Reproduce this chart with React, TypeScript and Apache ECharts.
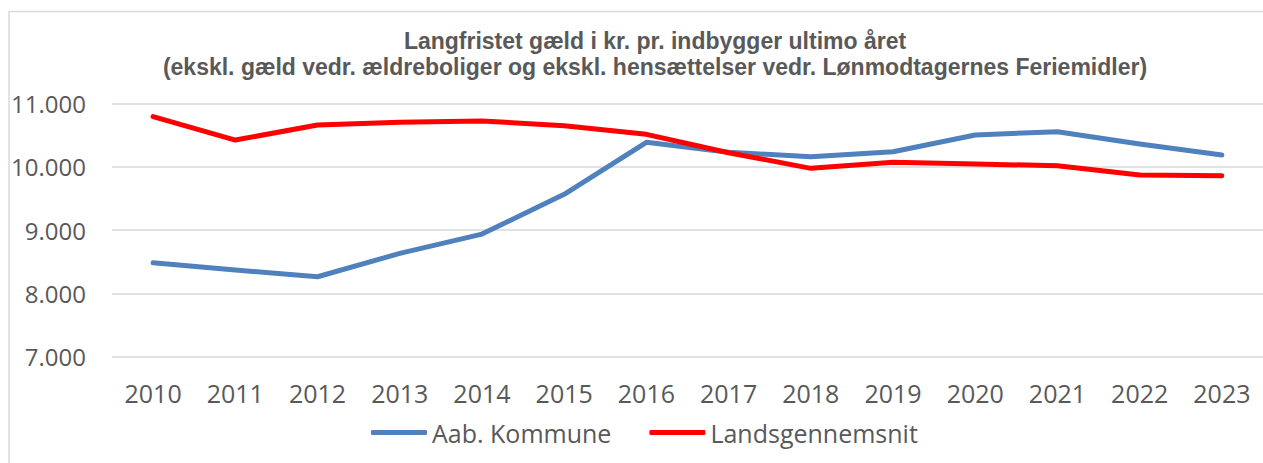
import React, { useEffect, useRef } from "react";
import * as echarts from "echarts";

const years = ["2010", "2011", "2012", "2013", "2014", "2015", "2016", "2017", "2018", "2019", "2020", "2021", "2022", "2023"];
const aabKommune = [8482, 8367, 8262, 8630, 8935, 9563, 10384, 10226, 10158, 10236, 10500, 10552, 10357, 10184];
const landsgennemsnit = [10789, 10420, 10658, 10700, 10720, 10647, 10510, 10220, 9973, 10068, 10041, 10015, 9868, 9857];
const titleLines = [
  "Langfristet gæld i kr. pr. indbygger ultimo året",
  "(ekskl. gæld vedr. ældreboliger og ekskl. hensættelser vedr. Lønmodtagernes Feriemidler)",
];

const fmt = (v: number) => String(v).replace(/\B(?=(\d{3})+(?!\d))/g, ".");

export default function App() {
  const ref = useRef<HTMLDivElement>(null);
  useEffect(() => {
    if (!ref.current) return;
    const chart = echarts.init(ref.current, null, { renderer: "svg" });
    const font = "'Open Sans', sans-serif";
    const gray = "#595959";
    const titleStyle = {
      fontFamily: "'Liberation Sans', Arial, sans-serif",
      fontWeight: "bold",
      fontSize: 23,
      lineHeight: 23,
      color: gray,
    };
    chart.setOption({
      animation: false,
      backgroundColor: "#ffffff",
      textStyle: { fontFamily: font },
      graphic: [
        {
          type: "rect",
          shape: { x: 9, y: 11.5, width: 1400, height: 600 },
          style: { fill: "none", stroke: "#d9d9d9", lineWidth: 1.5 },
          silent: true,
        },
      ],
      title: [
        { text: titleLines[0], left: 655, top: 29.5, padding: 0, textAlign: "center", textStyle: titleStyle },
        { text: titleLines[1], left: 655, top: 55.5, padding: 0, textAlign: "center", textStyle: titleStyle },
      ],
      grid: { left: 112, right: -5, top: 103.3, bottom: 106.3, containLabel: false },
      xAxis: {
        type: "category",
        data: years,
        boundaryGap: true,
        axisLine: { show: false },
        axisTick: { show: false },
        axisLabel: { fontSize: 25, color: gray, margin: 24, fontFamily: font },
      },
      yAxis: {
        type: "value",
        min: 7000,
        max: 11000,
        interval: 1000,
        axisLine: { show: false },
        axisTick: { show: false },
        axisLabel: { fontSize: 24, color: gray, margin: 26, fontFamily: font, formatter: (v: number) => fmt(v) },
        splitLine: { lineStyle: { color: "#d9d9d9", width: 1.5 } },
      },
      legend: {
        left: 371,
        top: 420,
        padding: 0,
        icon: "roundRect",
        itemWidth: 56,
        itemHeight: 5,
        itemGap: 38,
        textStyle: { fontSize: 25, color: gray, fontFamily: font },
        data: ["Aab. Kommune", "Landsgennemsnit"],
      },
      series: [
        {
          name: "Aab. Kommune",
          type: "line",
          data: aabKommune,
          showSymbol: false,
          color: "#4f81bd",
          lineStyle: { width: 5, color: "#4f81bd", cap: "round", join: "round" },
        },
        {
          name: "Landsgennemsnit",
          type: "line",
          data: landsgennemsnit,
          showSymbol: false,
          color: "#ff0000",
          lineStyle: { width: 5, color: "#ff0000", cap: "round", join: "round" },
        },
      ],
    });
    return () => chart.dispose();
  }, []);
  return <div ref={ref} style={{ position: "fixed", left: 0, top: 0, width: 1263, height: 463 }} />;
}
